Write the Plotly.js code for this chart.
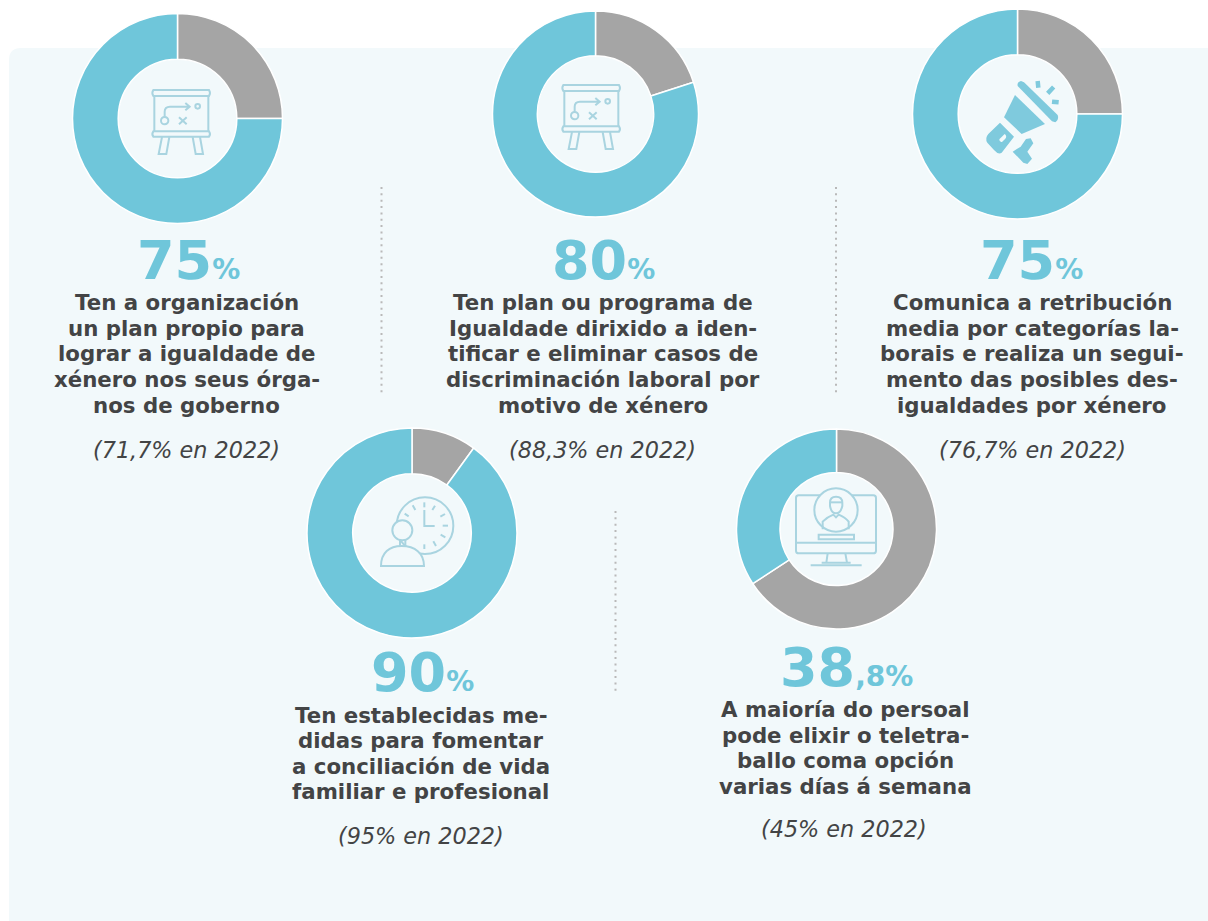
<!DOCTYPE html>
<html><head><meta charset="utf-8">
<script src="https://cdn.plot.ly/plotly-3.0.1.min.js"></script>
<style>html,body{margin:0;padding:0;background:#fff;overflow:hidden}#c{width:1208px;height:921px}</style>
</head><body><div id="c"></div>
<script>
// ---- data ----
const segmentLabels = ['Resto', 'Si'];
const greyShare = [25, 20, 25, 10, 65.8];
const blueShare = [75, 80, 75, 90, 34.2];
const bigNumbers = ['75', '80', '75', '90', '38'];
const bigSuffix = ['%', '%', '%', '%', ',8%'];
const descriptions = [
  ['Ten a organización','un plan propio para','lograr a igualdade de','xénero nos seus órga-','nos de goberno'],
  ['Ten plan ou programa de','Igualdade dirixido a iden-','tificar e eliminar casos de','discriminación laboral por','motivo de xénero'],
  ['Comunica a retribución','media por categorías la-','borais e realiza un segui-','mento das posibles des-','igualdades por xénero'],
  ['Ten establecidas me-','didas para fomentar','a conciliación de vida','familiar e profesional'],
  ['A maioría do persoal','pode elixir o teletra-','ballo coma opción','varias días á semana']
];
const previousYear = ['(71,7% en 2022)', '(88,3% en 2022)', '(76,7% en 2022)', '(95% en 2022)', '(45% en 2022)'];

// ---- layout constants ----
const W = 1208, H = 921;
const BLUE = '#6fc6da', GREY = '#a5a5a5', BG = '#f2f9fb', TXT = '#434445', ICON = '#a9d4e0';
const pieCX = [177.5, 595.5, 1017.5, 412, 836.5];
const pieCY = [118.5, 114, 114, 533, 529];
const pieR = [105, 103, 105, 105, 100];
const bigX = [188.5, 603.5, 1031.5, 422.5, 846];
const bigY = [260, 260, 260, 672, 667];
const descX = [186.5, 603, 1032, 421, 845];
const descY = [354, 354, 354, 753.5, 748];
const noteX = [186, 602.5, 1032.5, 420.5, 844];
const noteY = [450, 450, 450, 836, 829];
const lineStep = 25.5;

const fx = x => x / W, fy = y => 1 - y / H;
const shapes = [];

function toPaper(ox, oy, s, d) {
  let isX = true;
  return d.replace(/[A-Za-z]|-?[\d.]+/g, t => {
    if (/[A-Za-z]/.test(t)) { isX = true; return t; }
    const v = parseFloat(t);
    const r = isX ? fx(ox + v * s) : fy(oy + v * s);
    isX = !isX;
    return r.toFixed(6);
  });
}
function path(ox, oy, d, color, width, fill) {
  shapes.push({type:'path', xref:'paper', yref:'paper', path: toPaper(ox, oy, 1/3, d),
    line:{color: color, width: width}, fillcolor: fill || 'rgba(0,0,0,0)', layer:'above'});
}
function circle(ox, oy, cx, cy, r, color, width, fill) {
  const X = ox + cx/3, Y = oy + cy/3, R = r/3;
  shapes.push({type:'circle', xref:'paper', yref:'paper', x0:fx(X-R), x1:fx(X+R), y0:fy(Y+R), y1:fy(Y-R),
    line:{color: color, width: width}, fillcolor: fill || 'rgba(0,0,0,0)', layer:'above'});
}

// background panel: rounded on the left, running off the right edge
shapes.push({type:'path', xref:'paper', yref:'paper', layer:'below',
  path: toPaper(0,0,1,'M 9 60 Q 9 48 21 48 L 1208 48 L 1208 921 L 9 921 Z'),
  fillcolor: BG, line:{width:0}});

// dotted separators
[[381.5,187,395],[836,187,395],[615.5,511,692]].forEach(s => shapes.push({type:'line', xref:'paper', yref:'paper',
  x0:fx(s[0]), x1:fx(s[0]), y0:fy(s[1]), y1:fy(s[2]), line:{color:'#b9b9b9', width:2, dash:'2px,4.35px'}, layer:'below'}));

// strategy-board icon
function board(ox, oy) {
  const c = ICON, w = 2;
  path(ox,oy,'M 280 270 L 447 270 Q 453 279 447 288 L 280 288 Q 274 279 280 270 Z',c,w);
  path(ox,oy,'M 283 288 L 283 394 M 445 288 L 445 394',c,w);
  path(ox,oy,'M 280 394 L 447 394 Q 453 402 447 410 L 280 410 Q 274 402 280 394 Z',c,w);
  path(ox,oy,'M 306 411 L 296 462 L 319 462 L 328 411',c,w);
  path(ox,oy,'M 398 411 L 407 462 L 429 462 L 420 411',c,w);
  circle(ox,oy,314,362,11,c,w);
  circle(ox,oy,413,319,7,c,w);
  path(ox,oy,'M 314 350 L 314 335 Q 314 320 330 320 L 388 320 M 376 309 L 389 320 L 376 331',c,w);
  path(ox,oy,'M 357 352 L 380 373 M 380 352 L 357 373',c,w);
}
board(60, 0);
board(470, -5);

// megaphone icon
(function(){
  const ox = 900, oy = 0, c = '#7fcadd';
  path(ox,oy,'M 353 258 Q 350 246 363 243 L 372 247 L 473 345 Q 478 358 466 367 L 456 364 Z',c,0,c);
  path(ox,oy,'M 345 285 L 435 372 L 365 402 L 312 352 Z',c,0,c);
  path(ox,oy,'M 300 368 L 342 410 L 305 458 Q 295 465 282 450 L 262 428 Q 254 415 265 402 Z',c,0,c);
  path(ox,oy,'M 298 418 L 314 402 Q 322 408 316 416 L 306 426 Q 298 428 298 418 Z',BG,0,BG);
  path(ox,oy,'M 338 455 L 362 440 L 378 417 L 392 415 L 400 430 L 382 455 L 396 476 L 382 492 L 370 488 Z',c,0,c);
  path(ox,oy,'M 413 243 L 415 263 M 461 261 L 443 280 M 456 305 L 476 307',c,4.5);
})();

// clock and person icon
(function(){
  const ox = 300, oy = 420, c = ICON, w = 2;
  circle(ox,oy,375,317,85,c,w);
  for (const t of [[373,247,373,262],[338,256,346,270],[314,281,326,289],[405,257,397,270],[435,282,421,290],[444,317,428,317],[436,352,422,344],[408,378,400,364],[373,387,373,373]]) {
    path(ox,oy,`M ${t[0]} ${t[1]} L ${t[2]} ${t[3]}`,c,w);
  }
  path(ox,oy,'M 373 270 L 373 318 L 404 318',c,w);
  path(ox,oy,'M 243 438 C 243 398 268 378 305 378 C 345 378 372 400 372 438 Z',c,w,BG);
  path(ox,oy,'M 300 360 L 300 378 M 316 360 L 316 378',c,w);
  circle(ox,oy,307,331,30,c,w,BG);
})();

// monitor icon
(function(){
  const ox = 720, oy = 420, c = ICON, w = 2;
  path(ox,oy,'M 236 226 L 460 226 Q 468 226 468 234 L 468 392 Q 468 400 460 400 L 236 400 Q 228 400 228 392 L 228 234 Q 228 226 236 226 Z',c,w);
  path(ox,oy,'M 228 368 L 468 368',c,w);
  path(ox,oy,'M 323 400 L 319 428 L 381 428 L 376 400 M 305 428 L 392 428 M 272 436 L 425 436',c,w);
  circle(ox,oy,348,270,65,c,w,BG);
  path(ox,oy,'M 296 344 L 402 344 L 402 358 L 296 358 Z',c,w);
  path(ox,oy,'M 330 248 Q 330 230 348 230 Q 367 230 367 248 L 367 258 Q 362 280 348 280 Q 334 280 330 258 Z',c,w);
  path(ox,oy,'M 330 247 L 367 247',c,w);
  path(ox,oy,'M 308 328 L 308 305 Q 320 292 340 284 L 348 292 L 356 284 Q 376 292 386 305 L 386 328',c,w);
})();

// ---- traces ----
const traces = greyShare.map((g, i) => ({
  type:'pie', labels: segmentLabels, values:[g, blueShare[i]], sort:false, direction:'clockwise', rotation:0,
  hole:0.565, textinfo:'none', hoverinfo:'label+percent', showlegend:false,
  marker:{colors:[GREY, BLUE], line:{color:'#ffffff', width:1.5}},
  domain:{x:[fx(pieCX[i]-pieR[i]), fx(pieCX[i]+pieR[i])], y:[fy(pieCY[i]+pieR[i]), fy(pieCY[i]-pieR[i])]}
}));

// ---- text ----
const FONT = '"DejaVu Sans", Verdana, sans-serif';
const annotations = [];
function note(x, y, text, font) {
  annotations.push({xref:'paper', yref:'paper', x:fx(x), y:fy(y), xanchor:'center', yanchor:'middle', align:'center',
    showarrow:false, text:text, font:Object.assign({family:FONT}, font)});
}
bigNumbers.forEach((n, i) => {
  note(bigX[i], bigY[i], `<b>${n}<span style="font-size:28px">${bigSuffix[i]}</span></b>`, {size:54, color:BLUE});
  const d = descriptions[i];
  d.forEach((line, k) => note(descX[i], descY[i] + (k - (d.length - 1) / 2) * lineStep, `<b>${line}</b>`, {size:21.3, color:TXT}));
  note(noteX[i], noteY[i], `<i>${previousYear[i]}</i>`, {size:22.3, color:TXT});
});

Plotly.newPlot('c', traces, {
  width:W, height:H, margin:{l:0,r:0,t:0,b:0}, paper_bgcolor:'#ffffff', plot_bgcolor:'rgba(0,0,0,0)',
  showlegend:false, shapes:shapes, annotations:annotations
}, {displayModeBar:false, staticPlot:true});
</script></body></html>
